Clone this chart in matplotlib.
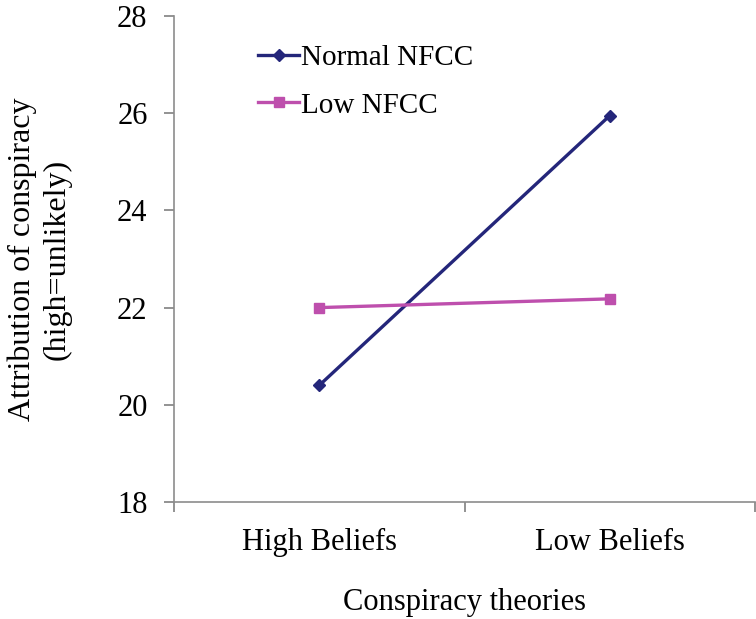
import matplotlib
matplotlib.use("Agg")
import matplotlib.pyplot as plt

categories = ["High Beliefs", "Low Beliefs"]
normal_nfcc = [20.4, 25.95]
low_nfcc = [22.0, 22.18]
yticks = [18, 20, 22, 24, 26, 28]

plt.rcParams['font.family'] = ['Liberation Serif', 'DejaVu Serif']

fig = plt.figure(figsize=(7.56, 6.19), dpi=100)
ax = fig.add_axes([174/756, 1-502/619, 581/756, 486/619])

navy = "#24267A"
pink = "#BE4FAD"
x = list(range(len(categories)))
ax.plot(x, normal_nfcc, color=navy, lw=2.4, marker="D", ms=6.5, label="Normal NFCC")
ax.plot(x, low_nfcc, color=pink, lw=2.4, marker="s", ms=7, label="Low NFCC")

ax.set_xlim(-0.5, 1.5)
ax.set_ylim(18, 28)
ax.set_yticks(yticks)
ax.set_yticklabels([str(t) for t in yticks])
ax.set_xticks([-0.5, 0.5, 1.5])
ax.set_xticklabels([])
ax.set_xticks(x, minor=True)
ax.set_xticklabels(categories, minor=True)
ax.tick_params(axis="x", which="minor", length=0, pad=19, labelsize=22)
ax.tick_params(axis="x", which="major", length=7, width=1.2, color="#808080", direction="out")
ax.tick_params(axis="y", length=7, width=1.2, color="#808080", direction="out", pad=12, labelsize=22)

for s in ["top", "right"]:
    ax.spines[s].set_visible(False)
for s in ["left", "bottom"]:
    ax.spines[s].set_color("#8c8c8c")
    ax.spines[s].set_linewidth(1.2)

ax.set_xlabel("Conspiracy theories", fontsize=22, labelpad=22)
ax.set_ylabel("Attribution of conspiracy\n(high=unlikely)", fontsize=23, labelpad=33, linespacing=1.25)

leg = ax.legend(loc="upper left", bbox_to_anchor=(0.125, 0.965), frameon=False, fontsize=21,
                handlelength=1.4, handletextpad=0.05, labelspacing=0.72, borderaxespad=0)

fig.savefig("out.png", dpi=100)
